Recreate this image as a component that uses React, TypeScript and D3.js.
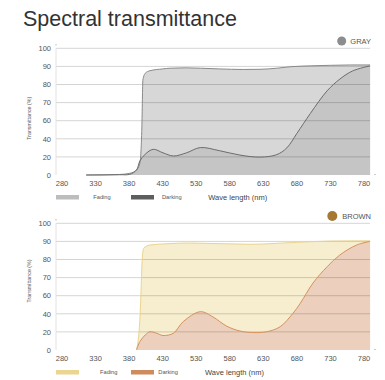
import React from "react";
import * as d3 from "d3";

const xLabels = [280, 330, 380, 430, 530, 580, 630, 680, 730, 780];
const yLabels = [0, 20, 40, 60, 70, 80, 90, 100];

const grayFadingNm = [316, 366, 381, 391, 396, 399, 400.5, 404, 411, 430, 452, 500, 536, 565, 600, 625, 650, 670, 700, 730, 760, 789];
const grayFadingVal = [0, 0.6, 1.9, 5.5, 13, 53, 82.5, 86.2, 87.6, 88.6, 89, 89.2, 89, 88.6, 88.3, 88.4, 89, 89.8, 90.3, 90.6, 90.8, 90.8];
const grayDarkingNm = [316, 366, 381, 391, 396, 404, 416, 431, 462, 501, 536, 565, 595, 625, 650, 665, 680, 700, 725, 744, 763, 789];
const grayDarkingVal = [0, 0.3, 0.8, 5.5, 15.5, 23, 28.4, 24.5, 21, 24.5, 30.3, 26.8, 22, 19.8, 22.5, 30, 46, 64, 76.5, 83, 87.5, 90.3];

const brownFadingNm = [391, 393, 396, 400, 402, 411, 443, 511, 610, 670, 730, 789];
const brownFadingVal = [0, 8, 33, 82.5, 86.4, 88, 88.7, 89.1, 88.4, 89.3, 90.2, 90.3];
const brownDarkingNm = [391, 396, 404, 411, 421, 431, 462, 491, 536, 555, 575, 595, 614, 635, 655, 674, 685, 704, 725, 744, 769, 789];
const brownDarkingVal = [0.3, 9.2, 16.6, 20.2, 18.5, 16, 18.5, 31.3, 42.3, 36.5, 26.5, 21, 19.3, 20.2, 25.7, 40.5, 51.6, 67, 76, 82.5, 88, 90];

const FONT = "'Liberation Sans', Arial, Helvetica, sans-serif";

const x = d3
  .scaleLinear()
  .domain(xLabels)
  .range(xLabels.map((_, i) => 62 + i * 33.56));

type PanelProps = {
  dy: number;
  fadingNm: number[];
  fadingVal: number[];
  darkingNm: number[];
  darkingVal: number[];
  fadingFill: string;
  fadingLine: string;
  darkingFill: string;
  darkingLine: string;
  fadingSwatch: string;
  darkingSwatch: string;
  badge: string;
  badgeColor: string;
  badgeX: number;
  badgeR: number;
  legendX: number[];
  waveX: number;
  yTitleY: number;
};

function Panel(p: PanelProps) {
  const y0 = 175 + p.dy;
  const step = 18.1;
  const y = d3
    .scaleLinear()
    .domain(yLabels)
    .range(yLabels.map((_, i) => y0 - i * step));
  const left = 56;
  const right = 370;

  const mk = (nm: number[], v: number[]) => nm.map((n, i) => [n, v[i]] as [number, number]);
  const fading = mk(p.fadingNm, p.fadingVal);
  const darking = mk(p.darkingNm, p.darkingVal);

  const areaF = d3
    .area<[number, number]>()
    .x((d) => x(d[0]))
    .y0(y(0))
    .y1((d) => y(d[1]))
    .curve(d3.curveMonotoneX);
  const lineF = d3
    .line<[number, number]>()
    .x((d) => x(d[0]))
    .y((d) => y(d[1]))
    .curve(d3.curveMonotoneX);
  const areaD = d3
    .area<[number, number]>()
    .x((d) => x(d[0]))
    .y0(y(0))
    .y1((d) => Math.min(y(0), y(d[1])))
    .curve(d3.curveCatmullRom.alpha(0.5));
  const lineD = d3
    .line<[number, number]>()
    .x((d) => x(d[0]))
    .y((d) => y(d[1]))
    .curve(d3.curveCatmullRom.alpha(0.5));

  const legendY = 195 + p.dy;
  return (
    <g>
      <path d={areaF(fading) || ""} fill={p.fadingFill} />
      <path d={areaD(darking) || ""} fill={p.darkingFill} />
      {yLabels
        .filter((v) => v > 0)
        .map((v) => (
          <line key={v} x1={left} x2={right} y1={y(v)} y2={y(v)} stroke="rgba(0,0,0,0.17)" strokeWidth={1} />
        ))}
      <line x1={left} x2={left} y1={y(100)} y2={y(0)} stroke="#e2e2e2" strokeWidth={1} />
      <path d={lineF(fading) || ""} fill="none" stroke={p.fadingLine} strokeWidth={1} />
      <path d={lineD(darking) || ""} fill="none" stroke={p.darkingLine} strokeWidth={1} />
      <rect x={left - 0.5} y={y(100) - 4} width={1} height={1} fill="#999" />
      <rect x={374.5} y={y(0) - 1} width={1} height={1} fill="#999" />
      {yLabels.map((v) => (
        <text key={v} x={51} y={y(v) + 2.7} textAnchor="end" fontSize={7.5} fill="#555" fontFamily={FONT}>
          {v}
        </text>
      ))}
      {xLabels.map((v) => (
        <text key={v} x={x(v)} y={y0 + 10.6} textAnchor="middle" fontSize={7.5} fill="#555" fontFamily={FONT}>
          {v}
        </text>
      ))}
      <text
        transform={`translate(31,${p.yTitleY}) rotate(-90)`}
        textAnchor="middle"
        fontSize={5.3}
        fill="#555"
        fontFamily={FONT}
      >
        Transmittance (%)
      </text>
      <circle cx={p.badgeX} cy={41 + p.dy} r={p.badgeR} fill={p.badgeColor} />
      <text x={371} y={43.7 + p.dy} textAnchor="end" fontSize={7.5} fill="#555" fontFamily={FONT}>
        {p.badge}
      </text>
      <rect x={56} y={legendY} width={23} height={4.5} fill={p.fadingSwatch} />
      <text x={p.legendX[0]} y={legendY + 4} fontSize={5.7} fill="#555" fontFamily={FONT}>
        Fading
      </text>
      <rect x={131} y={legendY} width={23} height={4.5} fill={p.darkingSwatch} />
      <text x={p.legendX[1]} y={legendY + 4} fontSize={5.7} fill="#555" fontFamily={FONT}>
        Darking
      </text>
      <text x={p.waveX} y={legendY + 4.8} fontSize={7.5} fill="#444" fontFamily={FONT}>
        Wave length (nm)
      </text>
    </g>
  );
}

export default function App() {
  return (
    <svg
      width={385}
      height={380}
      style={{ position: "absolute", left: 0, top: 0, background: "#fff" }}
    >
      <rect width={385} height={380} fill="#fff" />
      <text x={23} y={26} fontSize={21.5} fill="#333" fontFamily={FONT}>
        Spectral transmittance
      </text>
      <Panel
        dy={0}
        fadingNm={grayFadingNm}
        fadingVal={grayFadingVal}
        darkingNm={grayDarkingNm}
        darkingVal={grayDarkingVal}
        fadingFill="#d7d7d7"
        fadingLine="#8a8a8a"
        darkingFill="#c5c5c5"
        darkingLine="#6c6c6c"
        fadingSwatch="#bdbdbd"
        darkingSwatch="#5e5e5e"
        badge="GRAY"
        badgeColor="#8c8c8c"
        badgeX={341.7}
        badgeR={4.5}
        legendX={[93.3, 162]}
        waveX={208.3}
        yTitleY={118.3}
      />
      <Panel
        dy={175}
        fadingNm={brownFadingNm}
        fadingVal={brownFadingVal}
        darkingNm={brownDarkingNm}
        darkingVal={brownDarkingVal}
        fadingFill="#f7edcf"
        fadingLine="#ead48e"
        darkingFill="#ecd0bd"
        darkingLine="#d39260"
        fadingSwatch="#ecd591"
        darkingSwatch="#cf8b5b"
        badge="BROWN"
        badgeColor="#a67834"
        badgeX={332.3}
        badgeR={5}
        legendX={[100, 158.3]}
        waveX={205}
        yTitleY={281}
      />
    </svg>
  );
}
